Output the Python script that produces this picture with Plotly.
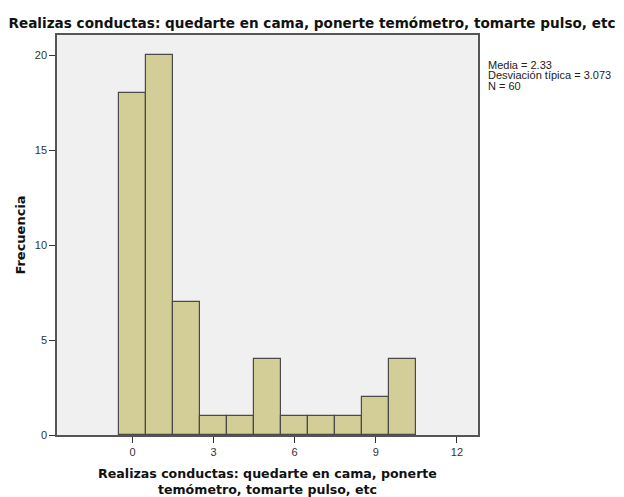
import plotly.graph_objects as go

values = [0, 1, 2, 3, 4, 5, 6, 7, 8, 9, 10]
frecuencias = [18, 20, 7, 1, 1, 4, 1, 1, 1, 2, 4]
x_ticks = [0, 3, 6, 9, 12]
y_ticks = [0, 5, 10, 15, 20]
stats_lines = ["Media = 2.33", "Desviación típica = 3.073", "N = 60"]
title_text = "Realizas conductas: quedarte en cama, ponerte temómetro, tomarte pulso, etc"
xtitle_text = "Realizas conductas: quedarte en cama, ponerte<br>temómetro, tomarte pulso, etc"

FONT = "Liberation Sans, Arial, sans-serif"
BFONT = "DejaVu Sans, Liberation Sans, Arial, sans-serif"

fig = go.Figure()
fig.add_trace(go.Bar(
    x=values, y=frecuencias, width=[1] * len(values),
    marker=dict(color="#D3CE98", line=dict(color="#4a4a4a", width=1.2)),
    hoverinfo="x+y",
))

annotations = []
for i, line in enumerate(stats_lines):
    annotations.append(dict(
        text=line, xref="paper", yref="paper", x=1.019, y=0.925 - 0.026 * i,
        xanchor="left", yanchor="middle", align="left", showarrow=False,
        xshift=0, font=dict(size=11, color="#222", family=FONT),
    ))

fig.update_layout(
    width=624, height=497,
    margin=dict(l=57, r=146, t=35, b=62, autoexpand=False),
    paper_bgcolor="white",
    plot_bgcolor="#F0F0F0",
    showlegend=False,
    bargap=0,
    font=dict(family=FONT, color="#222"),
    title=dict(text="<b>" + title_text + "</b>", x=0.5, xanchor="center", xref="container",
               y=0.954, yanchor="middle", automargin=False,
               font=dict(size=13.6, color="#111", family=BFONT)),
    xaxis=dict(range=[-2.79, 12.78], tickvals=x_ticks, ticks="outside", ticklen=6,
               tickcolor="#333", showgrid=False, zeroline=False, automargin=False,
               showline=True, linecolor="#555", linewidth=1.5, mirror=True,
               tickfont=dict(size=11, color="#333"),
               title=dict(text="<b>" + xtitle_text + "</b>",
                          font=dict(size=12.6, color="#111", family=BFONT), standoff=12)),
    yaxis=dict(range=[0, 21.08], tickvals=y_ticks, ticks="outside", ticklen=6,
               tickcolor="#333", showgrid=False, zeroline=False, automargin=False,
               showline=True, linecolor="#555", linewidth=1.5, mirror=True,
               tickfont=dict(size=11, color="#333"),
               title=dict(text="<b>Frecuencia</b>",
                          font=dict(size=13, color="#111", family=BFONT), standoff=6)),
    annotations=annotations,
)

fig.write_html("out.html", config={"displayModeBar": False},
               post_script="document.body.style.margin='0';")
